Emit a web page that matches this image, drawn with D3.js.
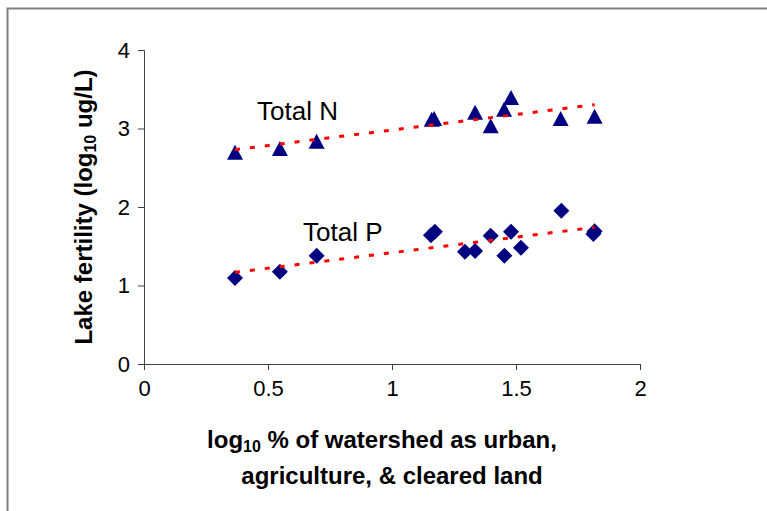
<!DOCTYPE html>
<html>
<head>
<meta charset="utf-8">
<script src="https://cdn.jsdelivr.net/npm/d3@7/dist/d3.min.js"></script>
<style>
  html, body { margin: 0; padding: 0; background: #fff; }
  svg { display: block; font-family: Arial, "Liberation Sans", sans-serif; }
</style>
</head>
<body>
<svg id="chart" width="767" height="511"></svg>
<script>
// ---- data ----
const nX = [0.367, 0.548, 0.696, 1.160, 1.170, 1.335, 1.398, 1.452, 1.480, 1.680, 1.817];
const nY = [2.69, 2.74, 2.83, 3.11, 3.12, 3.20, 3.03, 3.24, 3.39, 3.12, 3.15];
const pX = [0.367, 0.548, 0.696, 1.157, 1.173, 1.294, 1.335, 1.398, 1.453, 1.480, 1.520, 1.683, 1.812, 1.817];
const pY = [1.096, 1.176, 1.38, 1.64, 1.685, 1.43, 1.44, 1.635, 1.38, 1.685, 1.48, 1.953, 1.655, 1.69];
const xTicks = [0, 0.5, 1, 1.5, 2];
const yTicks = [0, 1, 2, 3, 4];
const seriesLabels = ["Total N", "Total P"];

const svg = d3.select("#chart");

// frame
svg.append("rect").attr("x", 7.5).attr("y", 8.5).attr("width", 800).attr("height", 600)
  .attr("fill", "none").attr("stroke", "#808080").attr("stroke-width", 2);

const x = d3.scaleLinear().domain([0, 2]).range([144, 640]);
const y = d3.scaleLinear().domain([0, 4]).range([364, 50]);

const axisColor = "#404040";

// x axis
const gx = svg.append("g").attr("transform", `translate(0,${y(0)})`)
  .call(d3.axisBottom(x).tickValues(xTicks).tickFormat(d3.format("")).tickSizeOuter(0).tickSize(6).tickPadding(10));
gx.select(".domain").attr("stroke", axisColor);
gx.selectAll(".tick line").attr("stroke", axisColor);
gx.selectAll(".tick text").attr("font-size", 22).attr("fill", "#000").attr("font-family", "Arial, 'Liberation Sans', sans-serif");

// y axis
const gy = svg.append("g").attr("transform", `translate(${x(0)},0)`)
  .call(d3.axisLeft(y).tickValues(yTicks).tickFormat(d3.format("d")).tickSizeOuter(0).tickSize(6).tickPadding(8));
gy.select(".domain").attr("stroke", axisColor);
gy.selectAll(".tick line").attr("stroke", axisColor);
gy.selectAll(".tick text").attr("font-size", 22).attr("fill", "#000").attr("font-family", "Arial, 'Liberation Sans', sans-serif");

// markers
const navy = "#000080";
const nData = nX.map((v, i) => ({ x: v, y: nY[i] }));
const pData = pX.map((v, i) => ({ x: v, y: pY[i] }));

const tri = "M0,-8 L8,7 L-8,7 Z";
svg.append("g").selectAll("path").data(nData).join("path")
  .attr("d", tri)
  .attr("transform", d => `translate(${x(d.x)},${y(d.y)})`)
  .attr("fill", navy);

const dia = "M0,-8 L8,0 L0,8 L-8,0 Z";
svg.append("g").selectAll("path").data(pData).join("path")
  .attr("d", dia)
  .attr("transform", d => `translate(${x(d.x)},${y(d.y)})`)
  .attr("fill", navy);

// linear trendlines (least squares)
function fit(data) {
  const mx = d3.mean(data, d => d.x), my = d3.mean(data, d => d.y);
  const sxy = d3.sum(data, d => (d.x - mx) * (d.y - my));
  const sxx = d3.sum(data, d => (d.x - mx) ** 2);
  const b = sxy / sxx, a = my - b * mx;
  const [x0, x1] = d3.extent(data, d => d.x);
  return [{ x: x0, y: a + b * x0 }, { x: x1, y: a + b * x1 }];
}
const line = d3.line().x(d => x(d.x)).y(d => y(d.y));
[nData, pData].forEach(ds => {
  svg.append("path").datum(fit(ds)).attr("d", line)
    .attr("fill", "none").attr("stroke", "#ff0000").attr("stroke-width", 3)
    .attr("stroke-dasharray", "5,10");
});

// series labels
svg.append("text").attr("x", 257).attr("y", 120).attr("font-size", 26).text(seriesLabels[0]);
svg.append("text").attr("x", 303).attr("y", 241).attr("font-size", 26).text(seriesLabels[1]);

// axis titles
const xt = svg.append("text").attr("text-anchor", "middle").attr("font-weight", "bold").attr("font-size", 24);
const l1 = xt.append("tspan").attr("x", 382).attr("y", 448);
l1.append("tspan").text("log");
l1.append("tspan").attr("font-size", 16).attr("dy", 4).text("10");
l1.append("tspan").attr("dy", -4).text(" % of watershed as urban,");
xt.append("tspan").attr("x", 392).attr("y", 484).text("agriculture, & cleared land");

const yt = svg.append("text").attr("text-anchor", "middle").attr("font-weight", "bold").attr("font-size", 24)
  .attr("transform", `translate(92,${(y(0) + y(4)) / 2}) rotate(-90)`);
yt.append("tspan").text("Lake fertility (log");
yt.append("tspan").attr("font-size", 16).attr("dy", 4).text("10");
yt.append("tspan").attr("dy", -4).text(" ug/L)");
</script>
</body>
</html>
